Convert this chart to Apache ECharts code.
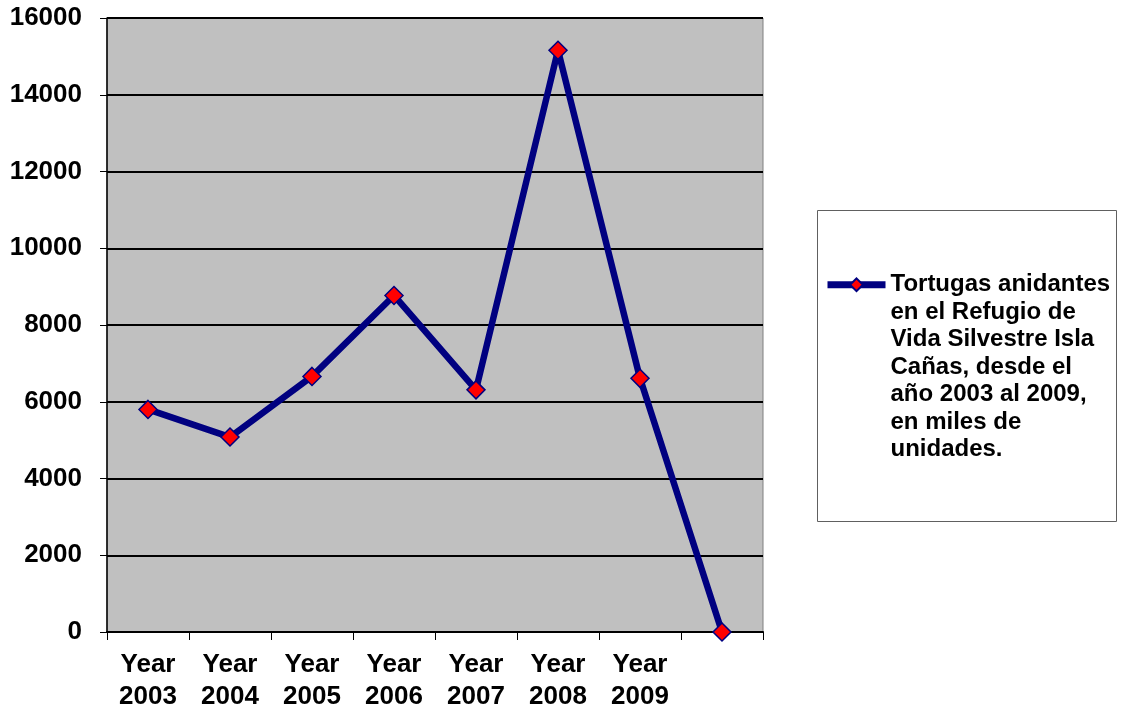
<!DOCTYPE html>
<html>
<head>
<meta charset="utf-8">
<script src="https://cdn.jsdelivr.net/npm/echarts@6/dist/echarts.min.js"></script>
<style>
  html, body { margin: 0; padding: 0; background: #ffffff; }
  #chart { width: 1121px; height: 713px; }
</style>
</head>
<body>
<div id="chart"></div>
<script>
// Nesting turtles per season (thousands); the last slot is an unlabeled category
const categories = ['Year\n2003', 'Year\n2004', 'Year\n2005', 'Year\n2006', 'Year\n2007', 'Year\n2008', 'Year\n2009', ''];
const turtles = [5800, 5080, 6660, 8770, 6310, 15160, 6610, 0];
const seriesName = 'Tortugas anidantes\nen el Refugio de\nVida Silvestre Isla\nCañas, desde el\naño 2003 al 2009,\nen miles de\nunidades.';
const yTicks = { min: 0, max: 16000, interval: 2000 };

const FONT = '"Liberation Sans", Arial, sans-serif';
const chart = echarts.init(document.getElementById('chart'), null, { renderer: 'canvas' });

// The legend centres its text block on the icon; leading blank lines put the
// icon level with the first line of the caption instead.
const captionLines = seriesName.split('\n').length;
const legendLead = '\n'.repeat(captionLines - 1);

chart.setOption({
  animation: false,
  backgroundColor: '#ffffff',
  grid: {
    left: 107, right: 358, top: 18, bottom: 80,
    show: true,
    backgroundColor: '#c0c0c0',
    borderColor: '#808080',
    borderWidth: 1
  },
  xAxis: {
    type: 'category',
    data: categories,
    boundaryGap: true,
    axisLine: { show: true, lineStyle: { color: '#000000', width: 2 } },
    axisTick: { show: true, alignWithLabel: false, length: 8, lineStyle: { color: '#000000', width: 1 } },
    axisLabel: {
      color: '#000000', fontFamily: FONT, fontWeight: 'bold', fontSize: 26,
      lineHeight: 32, margin: 17, interval: 0
    },
    splitLine: { show: false }
  },
  yAxis: {
    type: 'value',
    min: yTicks.min, max: yTicks.max, interval: yTicks.interval,
    axisLine: { show: true, lineStyle: { color: '#000000', width: 1.5 } },
    axisTick: { show: true, length: 7, lineStyle: { color: '#000000', width: 1 } },
    axisLabel: {
      color: '#000000', fontFamily: FONT, fontWeight: 'bold', fontSize: 26, margin: 25,
      formatter: function (v) { return String(v); }
    },
    splitLine: { show: true, lineStyle: { color: '#000000', width: 2 } }
  },
  legend: {
    show: true,
    orient: 'vertical',
    left: 824,
    top: 106,
    padding: 0,
    itemWidth: 58,
    itemHeight: 16,
    itemGap: 0,
    lineStyle: { width: 7 },
    formatter: function (name) { return legendLead + name; },
    textStyle: {
      color: '#000000', fontFamily: FONT, fontWeight: 'bold', fontSize: 24,
      lineHeight: 27.5
    },
    data: [seriesName]
  },
  graphic: [{
    type: 'rect',
    silent: true,
    z: -1,
    shape: { x: 817.5, y: 210.5, width: 299, height: 311 },
    style: { fill: '#ffffff', stroke: '#606060', lineWidth: 1 }
  }],
  series: [{
    name: seriesName,
    type: 'line',
    data: turtles,
    symbol: 'diamond',
    symbolSize: 18,
    lineStyle: { color: '#000080', width: 6.5 },
    itemStyle: { color: '#ff0000', borderColor: '#000080', borderWidth: 1.5 },
    z: 3
  }]
});
</script>
</body>
</html>
